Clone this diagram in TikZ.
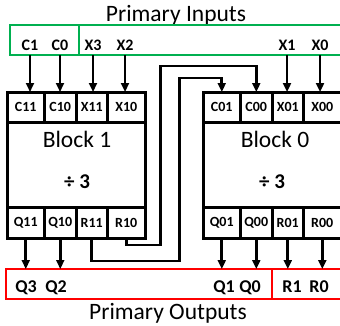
\documentclass[tikz,border=0pt]{standalone}
\usepackage{fontspec}
\setmainfont{Carlito}
\usetikzlibrary{arrows.meta, positioning}
\definecolor{ingreen}{RGB}{0,176,80}
\definecolor{outred}{RGB}{255,0,0}
\tikzset{
  cellbox/.style={
    rectangle, draw, line width=3pt, outer sep=0pt, inner sep=0pt,
    minimum height=30pt, font=\fontsize{14}{14}\selectfont\bfseries
  },
  wcell/.style={cellbox, minimum width=37.5pt},
  ncell/.style={cellbox, minimum width=31.5pt},
  blockbox/.style={rectangle, draw, line width=3pt, outer sep=0pt,
    minimum width=138pt, minimum height=146pt, anchor=north west},
  grpbox/.style={rectangle, line width=2.5pt, outer sep=0pt, inner sep=0pt,
    minimum height=30pt, anchor=north west},
  ingrp/.style={grpbox, draw=ingreen},
  outgrp/.style={grpbox, draw=outred},
  pin/.style={inner sep=0pt, anchor=base, font=\fontsize{16}{16}\selectfont\bfseries},
  opin/.style={pin, font=\fontsize{18}{18}\selectfont\bfseries},
  ttl/.style={inner sep=0pt, anchor=base, font=\fontsize{23.5}{24}\selectfont},
  divlbl/.style={inner sep=0pt, anchor=base, font=\fontsize{21}{21}\selectfont\bfseries},
  arr/.style={-{Triangle[length=9pt, width=8pt]}, line width=2.8pt}
}

\begin{document}
\begin{tikzpicture}[x=1pt, y=-1pt]
  \path[use as bounding box, clip] (0,0) rectangle (340,325);

  %% ── primary inputs ──────────────────────────────────────
  \node[ttl] (ttlin) at (176,21) {Primary Inputs};
  \node[ingrp, minimum width=69pt] (incc) at (10,25) {};
  \node[ingrp, minimum width=270pt, right=0pt of incc] (inxx) {};
  \node[pin] (c1) at (30,50)  {C1};
  \node[pin] (c0) at (60,50)  {C0};
  \node[pin] (x3) at (93,50)  {X3};
  \node[pin] (x2) at (125,50) {X2};
  \node[pin] (x1) at (287,50) {X1};
  \node[pin] (x0) at (320,50) {X0};

  %% ── block 1 ─────────────────────────────────────────────
  \node[blockbox] (b1) at (7,92) {};
  \node[wcell, anchor=north west] (b1c11) at (b1.north west) {C11};
  \node[ncell, right=0pt of b1c11] (b1c10) {C10};
  \node[ncell, right=0pt of b1c10] (b1x11) {X11};
  \node[wcell, right=0pt of b1x11] (b1x10) {X10};
  \node[wcell, anchor=south west, minimum height=31pt] (b1q11) at (b1.south west) {Q11};
  \node[ncell, minimum height=31pt, right=0pt of b1q11] (b1q10) {Q10};
  \node[ncell, minimum height=31pt, right=0pt of b1q10] (b1r11) {R11};
  \node[wcell, minimum height=31pt, right=0pt of b1r11] (b1r10) {R10};
  \node[ttl] (b1name) at (77,147) {Block 1};
  \node[divlbl] (b1div) at (77,188) {÷ 3};

  %% ── block 0 ─────────────────────────────────────────────
  \node[blockbox] (b0) at (203,92) {};
  \node[wcell, anchor=north west] (b0c01) at (b0.north west) {C01};
  \node[ncell, right=0pt of b0c01] (b0c00) {C00};
  \node[ncell, right=0pt of b0c00] (b0x01) {X01};
  \node[wcell, right=0pt of b0x01] (b0x00) {X00};
  \node[wcell, anchor=south west, minimum height=31pt] (b0q01) at (b0.south west) {Q01};
  \node[ncell, minimum height=31pt, right=0pt of b0q01] (b0q00) {Q00};
  \node[ncell, minimum height=31pt, right=0pt of b0q00] (b0r01) {R01};
  \node[wcell, minimum height=31pt, right=0pt of b0r01] (b0r00) {R00};
  \node[ttl] (b0name) at (275,147) {Block 0};
  \node[divlbl] (b0div) at (272,188) {÷ 3};

  %% ── primary outputs ─────────────────────────────────────
  \node[outgrp, minimum width=266pt] (outq) at (6,269) {};
  \node[outgrp, minimum width=80pt, right=0pt of outq] (outr) {};
  \node[opin] (q3) at (26,292)  {Q3};
  \node[opin] (q2) at (56,292)  {Q2};
  \node[opin] (q1) at (224,292) {Q1};
  \node[opin] (q0) at (250,292) {Q0};
  \node[opin] (r1) at (292,292) {R1};
  \node[opin] (r0) at (319,292) {R0};
  \node[ttl] (ttlout) at (168,319) {Primary Outputs};

  %% ── inputs into the blocks ──────────────────────────────
  \draw[arr] (c1 |- incc.south) -- (c1 |- b1c11.north);
  \draw[arr] (c0 |- incc.south) -- (c0 |- b1c10.north);
  \draw[arr] (x3 |- inxx.south) -- (x3 |- b1x11.north);
  \draw[arr] (x2 |- inxx.south) -- (x2 |- b1x10.north);
  \draw[arr] (x1 |- inxx.south) -- (x1 |- b0x01.north);
  \draw[arr] (x0 |- inxx.south) -- (x0 |- b0x00.north);

  %% ── remainders of block 1 carried into block 0 ──────────
  \draw[arr] (b1r10.south) |- ++(34,7) |- ([yshift=26pt]b0c00.north) -- (b0c00.north);
  \draw[arr] (b1r11.south) |- ++(88,23) |- ([yshift=14pt]b0c01.north) -- (b0c01.north);

  %% ── outputs ─────────────────────────────────────────────
  \draw[arr] (b1q11.south) -- (b1q11.south |- outq.north);
  \draw[arr] (b1q10.south) -- (b1q10.south |- outq.north);
  \draw[arr] (b0q01.south) -- (b0q01.south |- outq.north);
  \draw[arr] (b0q00.south) -- (b0q00.south |- outq.north);
  \draw[arr] (b0r01.south) -- (b0r01.south |- outr.north);
  \draw[arr] (b0r00.south) -- (b0r00.south |- outr.north);

\end{tikzpicture}
\end{document}
